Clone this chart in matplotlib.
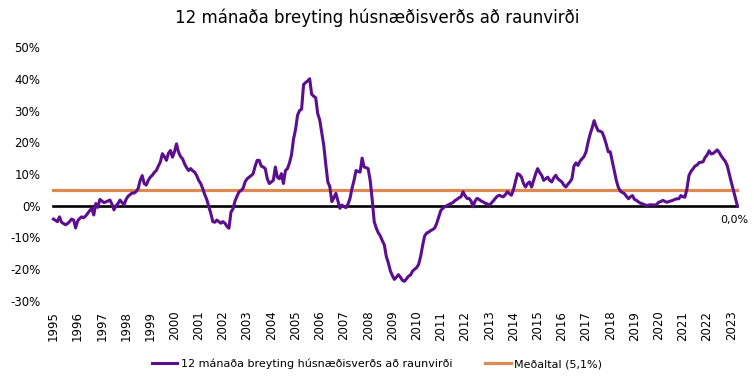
import matplotlib
matplotlib.use("Agg")
import matplotlib.pyplot as plt
import numpy as np

# Monthly values, Jan 1995 - Apr 2023 (12-month real house price change, %)
v1995 = [-4.2, -4.6, -5.0, -3.5, -5.2, -5.6, -6.0, -5.6, -5.0, -4.2, -4.5, -7.0]
v1996 = [-4.8, -4.0, -3.5, -3.8, -3.2, -2.4, -1.5, -0.8, -2.9, 0.7, -0.5, 2.0]
v1997 = [1.5, 1.0, 1.2, 1.5, 1.8, 0.5, -1.3, 0.0, 0.7, 1.8, 1.0, 0.3]
v1998 = [2.0, 3.0, 3.5, 4.0, 4.0, 4.5, 5.4, 8.0, 9.5, 7.0, 6.5, 8.0]
v1999 = [9.0, 9.6, 10.5, 11.1, 12.5, 13.8, 16.4, 15.5, 14.3, 16.5, 17.4, 15.3]
v2000 = [17.0, 19.5, 16.9, 15.5, 14.8, 13.2, 12.0, 11.1, 11.7, 11.0, 10.6, 9.5]
v2001 = [8.0, 7.0, 5.4, 3.5, 2.0, -0.3, -2.4, -5.0, -5.2, -4.5, -5.0, -5.5]
v2002 = [-5.0, -5.5, -6.5, -7.1, -2.0, -1.0, 1.5, 3.0, 4.4, 4.8, 5.5, 7.5]
v2003 = [8.5, 9.0, 9.5, 10.1, 12.5, 14.3, 14.3, 12.5, 12.2, 11.7, 8.5, 7.0]
v2004 = [7.5, 8.0, 12.2, 9.0, 8.5, 10.1, 7.0, 11.1, 11.7, 13.5, 16.0, 21.0]
v2005 = [24.0, 28.5, 30.0, 30.4, 38.2, 38.8, 39.3, 40.0, 35.1, 34.5, 34.0, 29.0]
v2006 = [27.0, 23.0, 19.0, 13.0, 7.5, 6.0, 1.3, 2.5, 3.9, 1.5, -0.8, 0.2]
v2007 = [-0.3, -0.6, 0.5, 2.3, 5.5, 8.0, 11.1, 10.8, 10.6, 15.0, 12.2, 12.0]
v2008 = [11.7, 8.0, 2.0, -5.0, -7.0, -8.5, -9.5, -11.0, -12.3, -16.0, -18.0, -20.5]
v2009 = [-22.0, -23.2, -22.5, -21.7, -22.5, -23.5, -23.8, -23.0, -22.2, -21.8, -20.6, -20.0]
v2010 = [-19.5, -18.5, -16.0, -12.5, -9.5, -8.6, -8.3, -7.8, -7.5, -7.0, -5.5, -3.5]
v2011 = [-1.5, -0.8, -0.3, 0.0, 0.4, 0.7, 1.0, 1.6, 2.0, 2.5, 2.8, 4.4]
v2012 = [3.2, 2.3, 2.3, 1.5, -0.3, 1.5, 2.3, 2.0, 1.5, 1.2, 0.8, 0.6]
v2013 = [0.2, 0.8, 1.5, 2.3, 3.0, 3.3, 3.0, 2.8, 3.5, 4.4, 3.8, 3.3]
v2014 = [5.0, 7.5, 10.1, 9.8, 9.0, 7.0, 5.9, 7.0, 7.5, 5.9, 8.0, 10.0]
v2015 = [11.7, 10.5, 9.6, 8.0, 8.5, 9.0, 8.0, 7.5, 8.8, 9.6, 8.5, 8.0]
v2016 = [7.5, 6.5, 5.9, 6.8, 7.5, 8.5, 12.5, 13.5, 12.7, 14.0, 14.8, 15.5]
v2017 = [17.0, 20.0, 22.5, 24.5, 26.8, 25.0, 23.6, 23.5, 23.1, 21.5, 19.4, 17.0]
v2018 = [17.0, 14.0, 11.0, 8.0, 5.8, 4.6, 4.2, 3.8, 3.0, 2.2, 2.8, 3.2]
v2019 = [2.0, 1.7, 1.2, 0.8, 0.6, 0.3, 0.1, 0.2, 0.3, 0.3, 0.2, 0.4]
v2020 = [1.1, 1.3, 1.7, 1.4, 1.1, 1.3, 1.5, 1.7, 2.0, 2.2, 2.2, 3.2]
v2021 = [2.8, 2.7, 5.3, 9.5, 10.8, 11.6, 12.5, 12.8, 13.6, 13.7, 13.85, 15.2]
v2022 = [16.0, 17.3, 16.3, 16.5, 17.0, 17.6, 16.8, 15.7, 14.8, 14.0, 12.6, 10.0]
v2023 = [7.4, 5.0, 2.5, 0.0]

series = (v1995 + v1996 + v1997 + v1998 + v1999 + v2000 + v2001 + v2002 + v2003 +
          v2004 + v2005 + v2006 + v2007 + v2008 + v2009 + v2010 + v2011 + v2012 +
          v2013 + v2014 + v2015 + v2016 + v2017 + v2018 + v2019 + v2020 + v2021 +
          v2022 + v2023)

mean_value = 5.1
years = list(range(1995, 2024))
yticks = [-30, -20, -10, 0, 10, 20, 30, 40, 50]

title = "12 mánaða breyting húsnæðisverðs að raunvirði"
label_series = "12 mánaða breyting húsnæðisverðs að raunvirði"
label_mean = "Meðaltal (5,1%)"
end_label = "0,0%"

purple = "#5B0F8E"
orange = "#DD8A52"

plt.rcParams['font.family'] = ['DejaVu Sans']

fig = plt.figure(figsize=(7.54, 3.83), dpi=100)
ax = fig.add_axes([50 / 754, 1 - 301 / 383, (742 - 50) / 754, (301 - 47) / 383])

x = np.arange(len(series))
ax.plot(x, np.zeros(len(series)), color="black", lw=1.9, zorder=2)
ax.plot(x, np.full(len(series), mean_value), color=orange, lw=2.3, label=label_mean, zorder=3)
ax.plot(x, series, color=purple, lw=2.2, label=label_series, zorder=4)

ax.set_ylim(-30, 50)
ax.set_xlim(-1.7, 341.3)
ax.set_yticks(yticks)
ax.set_yticklabels([f"{t}%" for t in yticks], fontsize=8.5)
ax.set_xticks([12 * i for i in range(len(years))])
ax.set_xticklabels([str(y) for y in years], rotation=90, fontsize=8.5)
ax.tick_params(axis='both', length=0)
ax.tick_params(axis='y', pad=7)
ax.tick_params(axis='x', pad=7)
for s in ax.spines.values():
    s.set_visible(False)

ax.annotate(end_label, xy=(x[-1], series[-1]), xytext=(-12, -10),
            textcoords="offset points", fontsize=8, ha="left", va="center")

fig.text(0.5, 1 - 18 / 383, title, ha="center", va="center", fontsize=12)

handles, labels = ax.get_legend_handles_labels()
leg = fig.legend(handles[::-1], labels[::-1], loc="center", bbox_to_anchor=(0.5, 1 - 364 / 383),
                 ncol=2, frameon=False, fontsize=8, handlelength=2.3, columnspacing=3.0,
                 handletextpad=0.3)

fig.savefig("out.png", dpi=100)
